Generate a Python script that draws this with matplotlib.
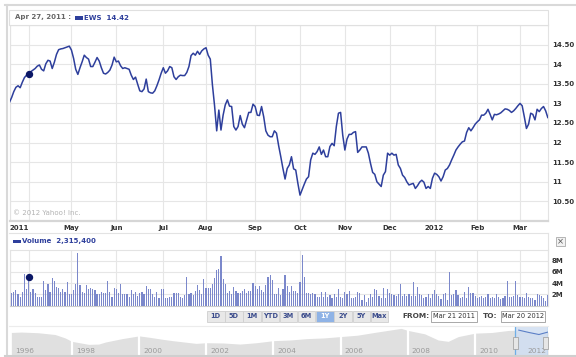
import matplotlib.pyplot as plt
from matplotlib.patches import Rectangle
from matplotlib.lines import Line2D
import numpy as np

W, H = 576, 357
BLUE = '#2e3f9c'
GRID = '#e6e6e6'
LABEL = '#333333'

# daily closes, one per trading day, Mar 21 2011 .. Mar 20 2012
close = [
    # Mar 2011
    13.03, 13.15, 13.30, 13.41, 13.45, 13.40, 13.54, 13.66, 13.72,
    # Apr
    13.75, 13.81, 13.85, 13.89, 13.95, 13.98, 13.87, 13.83, 14.01, 14.10,
    14.08, 13.89, 14.05, 14.25, 14.37, 14.39, 14.40, 14.42, 14.44, 14.46,
    # May
    14.36, 14.15, 13.87, 13.74, 13.91, 14.06, 14.23, 14.17, 14.13, 13.94,
    13.94, 14.05, 14.17, 14.08, 13.91, 13.77, 13.75, 13.79, 13.85, 13.98, 14.18,
    # Jun
    14.06, 14.08, 13.96, 13.89, 13.91, 13.89, 13.87, 13.72, 13.61, 13.67, 13.49,
    13.32, 13.30, 13.37, 13.62, 13.30, 13.27, 13.26, 13.32, 13.45, 13.60, 13.77,
    # Jul
    13.91, 13.77, 13.83, 13.94, 13.91, 13.68, 13.61, 13.68, 13.72, 13.71,
    13.71, 13.79, 13.94, 14.22, 14.28, 14.23, 14.33, 14.25, 14.34, 14.39,
    # Aug
    14.42, 14.23, 14.13, 13.47, 12.94, 12.30, 12.83, 12.32, 12.70, 12.96, 13.09, 12.93,
    12.92, 12.41, 12.32, 12.41, 12.69, 12.47, 12.38, 12.57, 12.77, 12.77, 12.98,
    # Sep
    12.92, 12.70, 12.69, 12.92, 12.66, 12.30, 12.19, 12.15, 12.15, 12.30, 12.24,
    11.92, 11.64, 11.34, 11.07, 11.34, 11.43, 11.64, 11.33, 11.30, 10.96,
    # Oct
    10.66, 10.80, 10.94, 11.07, 11.13, 11.56, 11.73, 11.70, 11.77, 11.89, 11.70,
    11.81, 11.64, 11.64, 11.90, 11.98, 11.92, 12.41, 12.75, 12.77, 12.19,
    # Nov
    11.81, 12.09, 12.21, 12.21, 12.26, 12.28, 11.75, 11.81, 11.89, 11.89, 11.89,
    11.73, 11.47, 11.24, 11.19, 11.00, 10.94, 10.88, 11.17, 11.26, 11.73,
    # Dec
    11.68, 11.73, 11.68, 11.70, 11.43, 11.34, 11.17, 11.11, 11.00, 10.92, 10.94,
    10.96, 10.83, 10.90, 10.99, 11.04, 10.99, 10.83, 10.88, 10.83, 11.09,
    # Jan 2012
    11.22, 11.19, 11.13, 11.02, 11.13, 11.30, 11.34, 11.43, 11.56, 11.68,
    11.81, 11.89, 11.96, 12.02, 12.04, 12.26, 12.38, 12.30, 12.38, 12.47,
    # Feb
    12.53, 12.58, 12.70, 12.70, 12.75, 12.85, 12.72, 12.58, 12.72, 12.71,
    12.73, 12.76, 12.81, 12.86, 12.85, 12.82, 12.77, 12.81, 12.87, 12.94,
    # Mar
    13.00, 12.94, 12.66, 12.36, 12.47, 12.75, 12.72, 12.58, 12.85, 12.79,
    12.87, 12.92, 12.81, 12.64,
]

# daily volume in millions
volume = [
    3.8, 2.2, 2.5, 2.7, 2.0, 1.6, 2.5, 5.7, 3.0,
    5.1, 2.5, 3.0, 2.2, 1.6, 1.6, 1.6, 4.3, 2.7, 3.8, 2.5, 4.9, 4.3, 3.3, 3.2, 2.5, 3.0, 2.5, 4.2, 2.0,
    2.0, 2.7, 3.8, 9.4, 3.6, 2.5, 2.2, 3.6, 3.0, 3.2, 2.9, 2.7, 2.0, 2.0, 2.5, 2.2, 2.2, 4.3, 2.5, 1.6, 3.2,
    2.9, 2.2, 3.8, 2.0, 2.0, 2.0, 1.6, 2.7, 2.0, 2.5, 1.7, 2.2, 2.5, 2.0, 3.5, 3.0, 3.0, 2.0, 1.6, 2.5, 1.4, 3.0,
    2.9, 1.4, 1.3, 1.6, 1.6, 2.3, 2.3, 2.2, 1.6, 1.4, 1.9, 5.1, 2.0, 2.3, 1.9, 2.6, 3.6, 2.7, 2.0, 4.7,
    3.2, 3.2, 3.2, 3.9, 4.9, 6.3, 6.5, 8.8, 4.8, 3.9, 2.2, 2.6, 2.0, 3.3, 2.6, 2.2, 2.2, 2.6, 2.9, 2.2, 2.6, 2.6, 4.1,
    3.5, 3.0, 3.5, 2.7, 2.5, 3.6, 5.1, 5.5, 4.5, 2.0, 2.0, 3.2, 1.9, 3.0, 5.5, 3.5, 2.5, 3.5, 2.6, 2.6, 2.2,
    4.2, 9.0, 5.1, 2.2, 2.3, 2.0, 2.2, 2.0, 1.6, 1.6, 2.5, 1.6, 2.5, 1.6, 1.9, 1.3, 2.0, 1.6, 2.9, 1.6, 1.4,
    2.5, 2.0, 2.6, 1.3, 1.4, 1.6, 2.5, 2.2, 1.0, 1.9, 0.7, 1.4, 2.0, 1.6, 3.0, 2.7, 1.7, 1.3, 3.2, 1.3, 2.9,
    2.3, 2.0, 1.9, 1.7, 2.0, 3.9, 1.7, 2.0, 1.7, 2.0, 1.7, 4.2, 1.7, 3.3, 2.0, 1.9, 1.4, 1.6, 2.0, 1.3, 2.0,
    2.7, 2.0, 1.7, 1.2, 2.0, 2.2, 1.0, 6.0, 1.9, 2.0, 2.7, 1.9, 1.4, 1.6, 2.5, 1.4, 3.3, 2.3, 2.2, 1.7,
    1.4, 1.6, 1.7, 1.4, 1.6, 2.0, 1.3, 1.6, 1.3, 2.0, 1.6, 1.2, 1.4, 1.7, 4.3, 1.6, 1.6, 1.7, 4.3, 1.9,
    1.6, 1.6, 1.4, 2.3, 1.6, 1.4, 1.3, 1.0, 2.0, 1.9, 1.7, 1.3, 0.8, 1.9,
]

# first trading day of each month (index into the daily series)
month_idx = [0, 9, 29, 50, 72, 92, 115, 136, 157, 178, 199, 219, 239]
month_labels = ['2011', '', 'May', 'Jun', 'Jul', 'Aug', 'Sep', 'Oct', 'Nov', 'Dec', '2012', 'Feb', 'Mar']

price_ticks = [10.5, 11, 11.5, 12, 12.5, 13, 13.5, 14, 14.5, 15]
price_labels = ['10.50', '11', '11.50', '12', '12.50', '13', '13.50', '14', '14.50', '']
vol_ticks = [2, 4, 6, 8]
vol_labels = ['2M', '4M', '6M', '8M']

hover_idx = 9

# long range navigator (approximate price history)
nav_years = [1996.2, 1996.5, 1997.0, 1997.5, 1997.8, 1998.0, 1998.5, 1998.8, 1999.0, 1999.5,
             2000.0, 2000.3, 2000.7, 2001.0, 2001.7, 2002.0, 2002.5, 2003.0, 2003.5, 2004.0,
             2004.5, 2005.0, 2005.5, 2006.0, 2006.5, 2007.0, 2007.8, 2008.0, 2008.5, 2008.9,
             2009.2, 2009.5, 2010.0, 2010.5, 2011.0, 2011.3, 2011.6, 2011.9, 2012.17]
nav_vals = [12.5, 12.8, 12.3, 11.0, 8.5, 6.0, 3.8, 4.0, 5.5, 8.0,
            10.0, 9.0, 7.5, 6.5, 4.5, 5.0, 4.8, 4.0, 5.0, 6.5,
            7.0, 8.0, 8.5, 9.5, 10.5, 12.5, 15.5, 14.0, 11.5, 7.0,
            6.0, 9.5, 12.0, 12.5, 14.0, 14.2, 12.5, 11.0, 12.8]
nav_year_labels = [1996, 1998, 2000, 2002, 2004, 2006, 2008, 2010, 2012]

buttons = ['1D', '5D', '1M', 'YTD', '3M', '6M', '1Y', '2Y', '5Y', 'Max']
active_button = '1Y'

plt.rcParams['font.family'] = 'DejaVu Sans'
fig = plt.figure(figsize=(W / 100, H / 100), dpi=100)


def box(x0, y0, x1, y1):
    return [x0 / W, 1 - y1 / H, (x1 - x0) / W, (y1 - y0) / H]


def rect(x0, y0, x1, y1, **kw):
    fig.add_artist(Rectangle((x0 / W, 1 - y1 / H), (x1 - x0) / W, (y1 - y0) / H,
                             transform=fig.transFigure, **kw))


def txt(x, y, s, **kw):
    fig.text(x / W, 1 - y / H, s, va='center', **kw)


def hline(x0, x1, y, **kw):
    fig.add_artist(Line2D([x0 / W, x1 / W], [1 - y / H, 1 - y / H], transform=fig.transFigure, **kw))


def vline(x, y0, y1, **kw):
    fig.add_artist(Line2D([x / W, x / W], [1 - y0 / H, 1 - y1 / H], transform=fig.transFigure, **kw))


days = np.arange(len(close))

# outer page frame
hline(5, 576, 5, color='#d9d9d9', lw=1.5)
vline(6.5, 5, 357, color='#d9d9d9', lw=1.5)
hline(5, 576, 356, color='#cfcfcf', lw=1.5)

# header strip
rect(9, 10, 548, 25, fc='white', ec='#e0e0e0', lw=0.8)
txt(15, 17.5, 'Apr 27, 2011 :', fontsize=5, fontweight='bold', color='#666666')
rect(75, 16, 83, 19.5, fc=BLUE, ec='none')
txt(84, 17.5, 'EWS  14.42', fontsize=5, fontweight='bold', color=BLUE)

# price panel
ax = fig.add_axes(box(9.5, 25, 547.8, 221))
ax.plot(days, close, color=BLUE, lw=1.1, solid_joinstyle='round', zorder=3)
ax.plot(days[hover_idx], close[hover_idx], 'o', color='#0b1766', ms=4.3, zorder=4)
ax.set_xlim(0, len(close) - 1)
ax.set_ylim(10, 15)
ax.set_yticks(price_ticks, price_labels)
ax.set_xticks(month_idx, month_labels)
ax.yaxis.tick_right()
ax.tick_params(length=0, labelsize=5, labelcolor=LABEL, pad=3)
ax.tick_params(axis='x', pad=3)
for t in ax.get_xticklabels() + ax.get_yticklabels():
    t.set_fontweight('bold')
ax.get_xticklabels()[0].set_horizontalalignment('left')
ax.grid(color=GRID, lw=0.8)
for s in ax.spines.values():
    s.set_color('#e3e3e3')
    s.set_linewidth(0.8)
ax.spines['bottom'].set_color('#d6d6d6')
ax.spines['bottom'].set_linewidth(1.6)
ax.text(0.006, 0.03, '\u00a9 2012 Yahoo! Inc.', transform=ax.transAxes,
        fontsize=5, color='#b3b3b3')

# volume header
hline(9, 548, 233, color='#e3e3e3', lw=0.8)
vline(547.8, 233, 306, color='#e3e3e3', lw=0.8)
rect(13, 239.5, 21, 243, fc=BLUE, ec='none')
txt(22, 241.5, 'Volume  2,315,400', fontsize=5, fontweight='bold', color=BLUE)
rect(556, 237, 565, 246, fc='#f2f2f2', ec='#aaaaaa', lw=0.6)
txt(560.5, 241.5, '\u00d7', fontsize=6, ha='center', color='#555555')

# volume panel
axv = fig.add_axes(box(9.5, 249.5, 547.8, 305.5))
axv.bar(days, volume, width=0.55, color='#7b88cb', zorder=3)
axv.plot(days[hover_idx], volume[hover_idx], 'o', color='#0b1766', ms=4.3, zorder=4)
axv.set_xlim(0, len(close) - 1)
axv.set_ylim(0, 10)
axv.set_xticks(month_idx, [])
axv.set_yticks(vol_ticks, vol_labels)
axv.yaxis.tick_right()
axv.tick_params(length=0, labelsize=5, labelcolor=LABEL, pad=3)
for t in axv.get_yticklabels():
    t.set_fontweight('bold')
axv.grid(color=GRID, lw=0.8)
for s in axv.spines.values():
    s.set_color('#e3e3e3')
    s.set_linewidth(0.8)
axv.spines['bottom'].set_color('#cccccc')

# range buttons
bx = 207
for b in buttons:
    on = b == active_button
    rect(bx, 311, bx + 17.5, 322, fc='#8fb3e6' if on else '#e8e8e8',
         ec='#cfcfcf', lw=0.6)
    txt(bx + 8.75, 316.5, b, fontsize=4.8, fontweight='bold', ha='center',
        color='white' if on else '#3b4c8c')
    bx += 18.2

txt(402, 316.5, 'FROM:', fontsize=5.3, fontweight='bold', color='#444444')
rect(431, 311, 477, 322, fc='white', ec='#9a9a9a', lw=0.6)
txt(454, 316.5, 'Mar 21 2011', fontsize=4.8, ha='center', color='#333333')
txt(483, 316.5, 'TO:', fontsize=5.3, fontweight='bold', color='#444444')
rect(501, 311, 545, 322, fc='white', ec='#9a9a9a', lw=0.6)
txt(523, 316.5, 'Mar 20 2012', fontsize=4.8, ha='center', color='#333333')

# navigator
hline(9, 548, 326, color='#ececec', lw=0.8)
axn = fig.add_axes(box(10, 327, 548, 355))
axn.fill_between(nav_years, nav_vals, -10, color='#e0e0e0', lw=0)
axn.set_xlim(1996.16, 2012.17)
axn.set_ylim(-4, 16.5)
for yr in nav_year_labels[1:-1]:
    axn.axvline(yr, color='white', lw=1.6)
lab_tr = axn.get_xaxis_transform()
for yr in nav_year_labels[:-1]:
    axn.text(max(yr, nav_years[0]) + 0.12, 0.14, str(yr), fontsize=5.3,
             color='#9a9a9a', va='center', transform=lab_tr)
axn.text(2012.12, 0.14, str(nav_year_labels[-1]), fontsize=5.3, color='#9a9a9a',
         va='center', ha='right', transform=lab_tr)
win0 = 2011.2
axn.axvspan(win0, 2012.17, color='#d0def2', alpha=0.85, lw=0, zorder=2)
win_x = [x for x in nav_years if x >= win0]
win_y = [v for x, v in zip(nav_years, nav_vals) if x >= win0]
axn.plot(win_x, win_y, color='#5b7fc6', lw=0.8, zorder=3)
for xe in (win0, 2012.17):
    axn.axvline(xe, color='#6faee6', lw=0.9, zorder=3)
axn.add_patch(Rectangle((win0 - 0.08, 0.5), 0.16, 9, fc='#e6e6e6', ec='#999999',
                        lw=0.5, zorder=4))
axn.add_patch(Rectangle((2012.17 - 0.16, 0.5), 0.16, 9, fc='#e6e6e6', ec='#999999',
                        lw=0.5, zorder=4, clip_on=False))
axn.set_xticks([])
axn.set_yticks([])
for s in axn.spines.values():
    s.set_visible(False)

fig.savefig('out.png', dpi=100)
